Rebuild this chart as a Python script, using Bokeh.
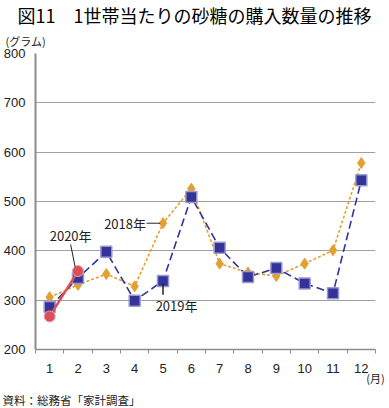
from bokeh.plotting import figure
from bokeh.models import Range1d, FixedTicker, Label, Title
from bokeh.embed import file_html
from bokeh.resources import INLINE

months = [1, 2, 3, 4, 5, 6, 7, 8, 9, 10, 11, 12]
y2018 = [306, 331, 353, 328, 456, 526, 374, 356, 349, 374, 401, 578]
y2019 = [286, 345, 398, 299, 339, 509, 406, 347, 365, 334, 314, 543]
months2020 = [1, 2]
y2020 = [267, 359]
yticks = [200, 300, 400, 500, 600, 700, 800]

JP = "Noto Sans CJK JP"
NUM = "Liberation Sans"

p = figure(width=389, height=408, output_backend="svg", toolbar_location=None,
           x_range=Range1d(0.5, 12.5), y_range=Range1d(200, 800),
           min_border_left=33, min_border_right=14, min_border_top=53, min_border_bottom=55)
p.outline_line_color = None
p.background_fill_color = "white"
p.xgrid.visible = False
p.ygrid.ticker = FixedTicker(ticks=yticks)
p.ygrid.grid_line_color = "#a0a0a0"
p.ygrid.grid_line_width = 1.2

p.yaxis.ticker = FixedTicker(ticks=yticks)
p.yaxis.axis_line_color = "#8c8c8c"
p.yaxis.axis_line_width = 2
p.yaxis.major_tick_out = 0
p.yaxis.major_tick_in = 0
p.yaxis.minor_tick_out = 0
p.yaxis.major_label_standoff = 10
p.yaxis.major_label_text_font = NUM
p.yaxis.major_label_text_font_size = "13px"
p.yaxis.major_label_text_color = "#222222"

p.xaxis.ticker = FixedTicker(ticks=months, minor_ticks=[m - 0.5 for m in months] + [12.5])
p.xaxis.axis_line_color = "#8c8c8c"
p.xaxis.axis_line_width = 1.5
p.xaxis.major_tick_out = 0
p.xaxis.major_tick_in = 0
p.xaxis.minor_tick_out = 4
p.xaxis.minor_tick_in = 0
p.xaxis.minor_tick_line_color = "#8c8c8c"
p.xaxis.major_label_standoff = 10
p.xaxis.major_label_text_font = NUM
p.xaxis.major_label_text_font_size = "13px"
p.xaxis.major_label_text_color = "#222222"
p.xaxis.axis_label = "(月)"
p.xaxis.axis_label_align = "end"
p.xaxis.axis_label_text_align = "left"
p.xaxis.axis_label_standoff = -6
p.xaxis.axis_label_text_font = JP
p.xaxis.axis_label_text_font_size = "11px"
p.xaxis.axis_label_text_font_style = "normal"
p.xaxis.axis_label_text_color = "#222222"

# 2018
p.line(months, y2018, line_color="#E3A032", line_width=1.6, line_dash="3 2")
p.scatter(months, y2018, marker="diamond", size=11, fill_color="#E3A032", line_color="#E3A032")
# 2019
p.line(months, y2019, line_color="#33339a", line_width=1.6, line_dash="8 4")
p.scatter(months, y2019, marker="square", size=11, fill_color="#33339a", line_color="#9a9ad0", line_width=1.5)
# 2020
p.line(months2020, y2020, line_color="#D9505A", line_width=2.5)
p.scatter(months2020, y2020, marker="circle", size=11, fill_color="#D9505A", line_color="#f0a0a6", line_width=1)

# leaders
p.segment(x0=[months[4] - 0.58], y0=[y2018[4]], x1=[months[4] - 0.1], y1=[y2018[4]], line_color="#222222", line_width=1)
p.segment(x0=[months[4]], y0=[y2019[4] - 6], x1=[months[4]], y1=[y2019[4] - 28], line_color="#222222", line_width=1.5)
p.segment(x0=[months2020[1] - 0.26], y0=[y2020[1] + 54], x1=[months2020[1] - 0.1], y1=[y2020[1] + 8], line_color="#222222", line_width=1)

def lab(x, y, t, size, align="left"):
    p.add_layout(Label(x=x, y=y, text=t, text_font=JP, text_font_size=size,
                       text_align=align, text_baseline="middle", text_color="#222222"))

lab(months[4] - 0.6, y2018[4], "2018年", "13px", align="right")
lab(months[4] - 0.26, y2019[4] - 50, "2019年", "13px")
lab(months2020[1] - 0.26, y2020[1] + 72, "2020年", "13px", align="center")

p.add_layout(Title(text="(グラム)", align="left", offset=-30, text_font=JP,
                   text_font_size="11px", text_font_style="normal", text_color="#222222",
                   standoff=10), "above")
p.add_layout(Title(text="図11　1世帯当たりの砂糖の購入数量の推移", align="left", offset=-18,
                   text_font=JP, text_font_size="18px", text_font_style="normal",
                   text_color="#000000", standoff=-4), "above")
p.add_layout(Title(text="資料：総務省「家計調査」", align="left", offset=-33, text_font=JP,
                   text_font_size="11.5px", text_font_style="normal", text_color="#222222",
                   standoff=2), "below")

html = file_html(p, INLINE)
html = html.replace("<head>", "<head><style>body{margin:0;overflow:hidden}</style>", 1)
open("out.html", "w").write(html)
